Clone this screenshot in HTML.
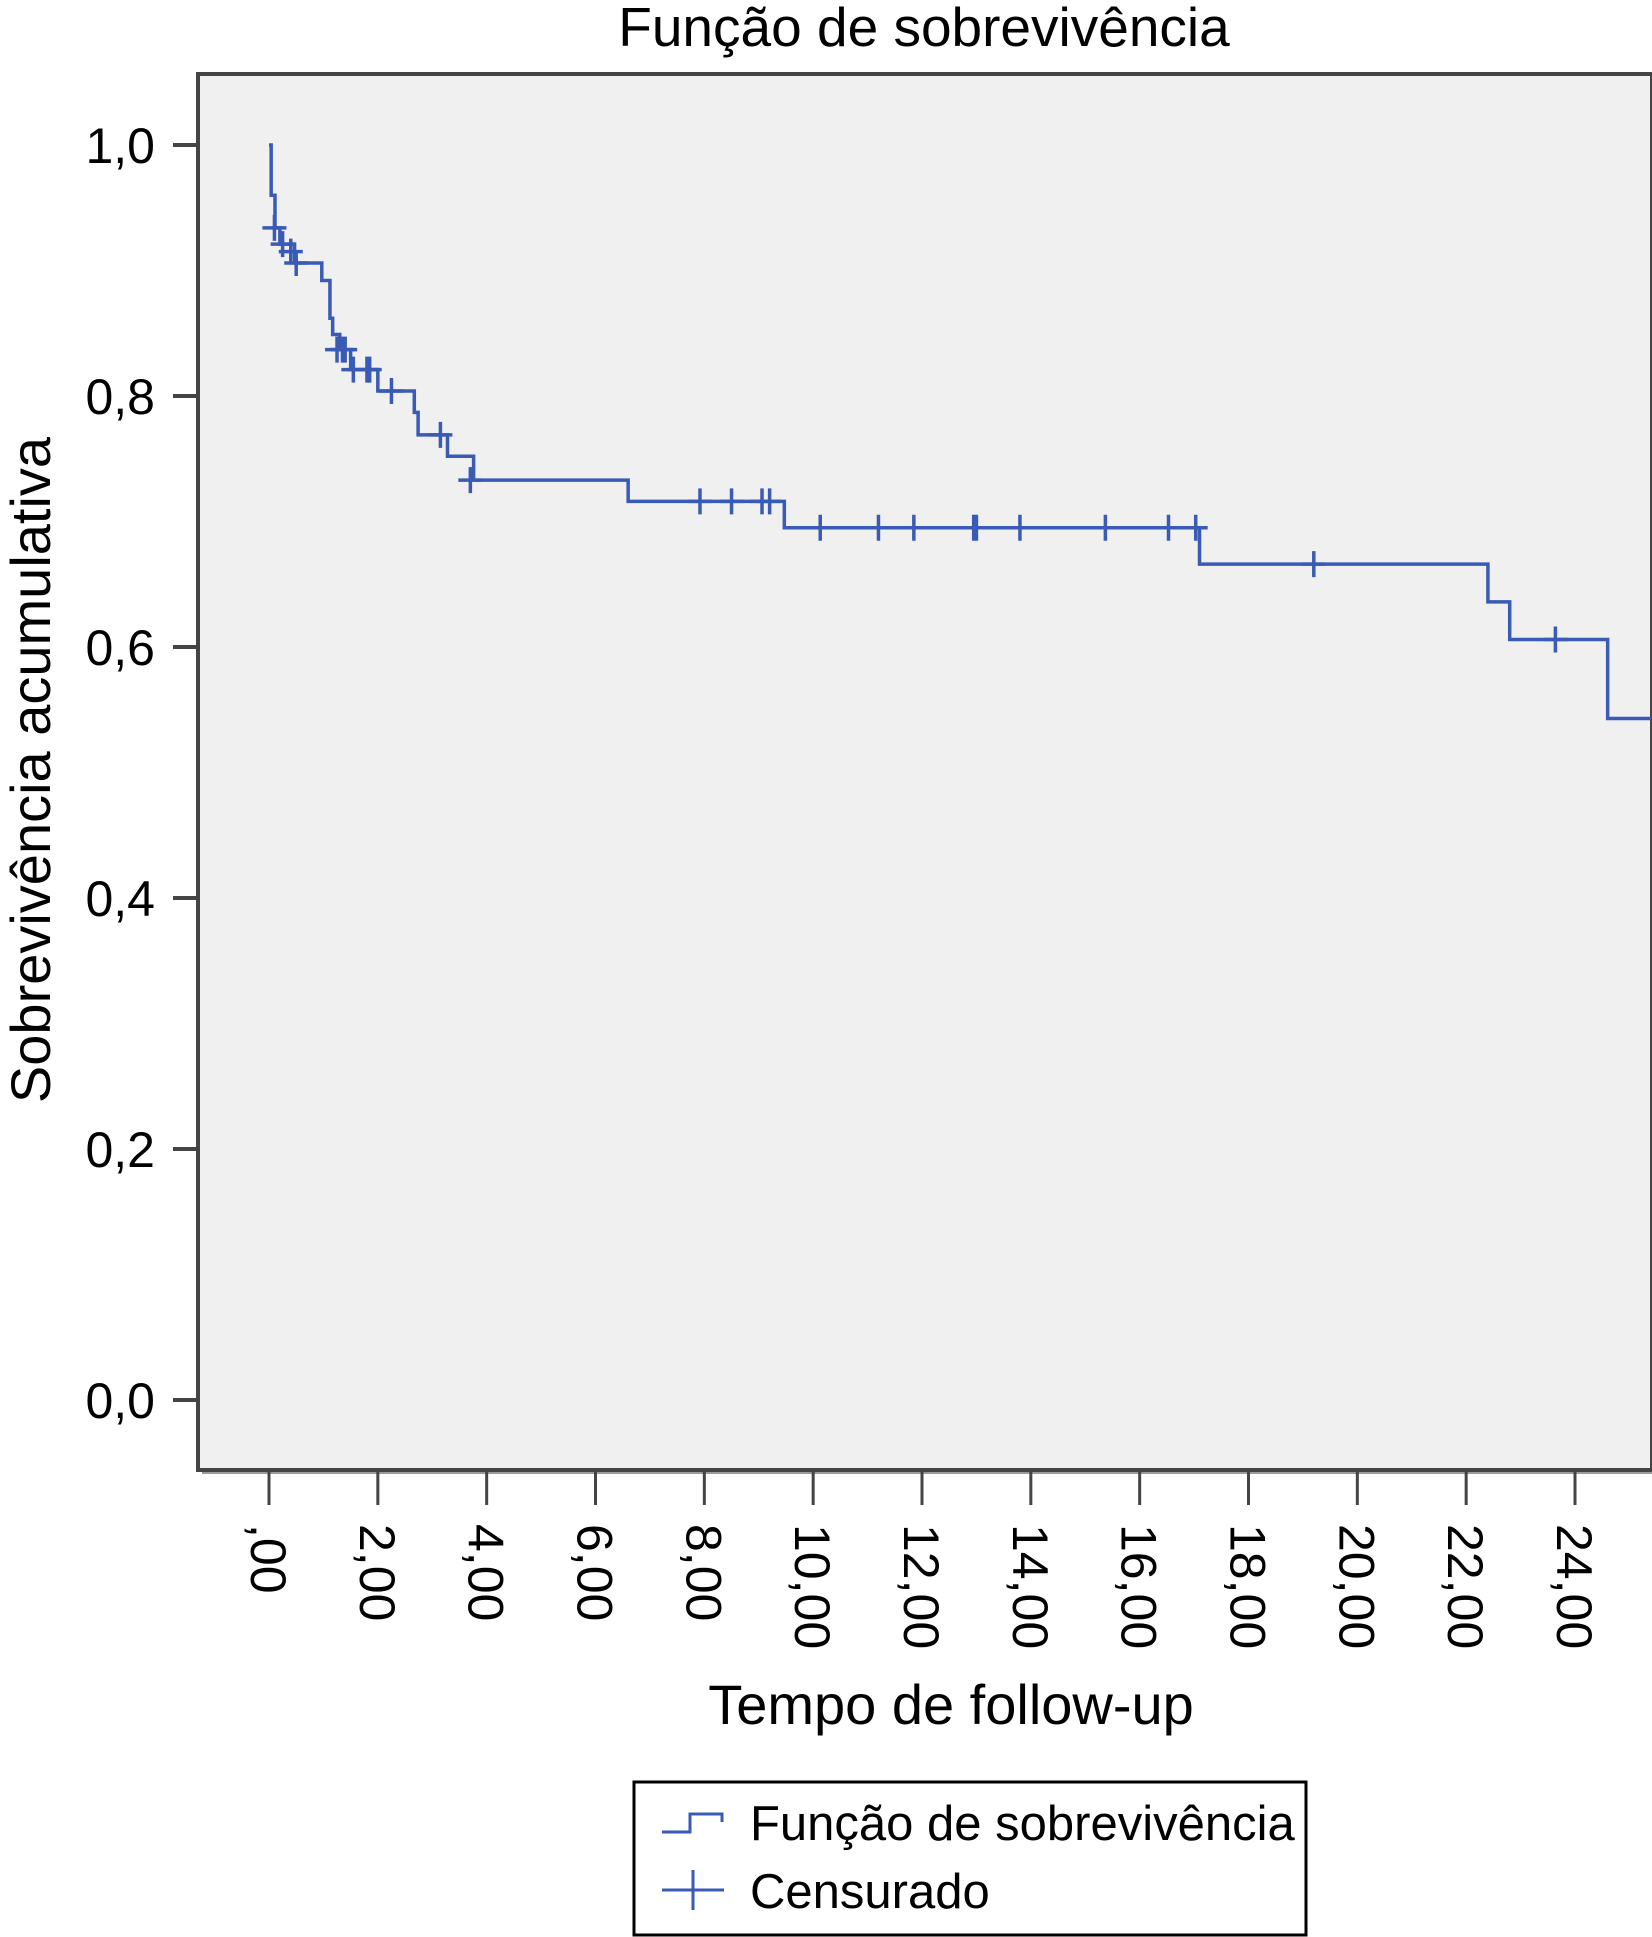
<!DOCTYPE html>
<html><head><meta charset="utf-8"><style>
html,body{margin:0;padding:0;background:#fff;}
svg{display:block;font-family:"Liberation Sans",Arial,sans-serif;}
</style></head><body>
<svg id="chart" width="1652" height="1937" viewBox="0 0 1652 1937">
<text x="924" y="46" font-size="55" text-anchor="middle" fill="#000">Função de sobrevivência</text>
<rect x="202" y="78" width="1452" height="1396" fill="#9a9a9a"/>
<rect x="198" y="74" width="1454" height="1396" fill="#f0f0f0" stroke="#444" stroke-width="4"/>
<g id="yaxis"></g>
<g id="xaxis"></g>
<g id="series"></g>
<text transform="translate(50,770) rotate(-90)" font-size="56" text-anchor="middle">Sobrevivência acumulativa</text>
<text x="951" y="1724" font-size="56" text-anchor="middle">Tempo de follow-up</text>
<g>
<rect x="634" y="1782" width="672" height="153" fill="#fff" stroke="#000" stroke-width="3"/>
<path d="M662,1832 L690,1832 L690,1814 L722,1814 L722,1822" fill="none" stroke="#3a5bb5" stroke-width="3"/>
<text x="750" y="1840" font-size="49">Função de sobrevivência</text>
<path d="M662,1890 L724,1890 M693,1870 L693,1910" fill="none" stroke="#3a5bb5" stroke-width="3"/>
<text x="750" y="1908" font-size="49">Censurado</text>
</g>
</svg>
<script>
const stepTimes = [0, 0.04, 0.11, 0.2, 0.47, 0.97, 1.12, 1.17, 1.3, 1.5, 2.0, 2.67, 2.74, 3.28, 3.76, 6.6, 9.47, 17.1, 22.4, 22.8, 24.6];
const stepSurv  = [1.0, 0.96, 0.934, 0.921, 0.906, 0.892, 0.862, 0.849, 0.837, 0.821, 0.804, 0.787, 0.769, 0.752, 0.733, 0.716, 0.695, 0.666, 0.636, 0.606, 0.543];
const endTime = 25.4;
const censTimes = [0.1, 0.25, 0.4, 0.5, 1.25, 1.35, 1.4, 1.55, 1.8, 1.85, 2.25, 3.15, 3.7, 7.92, 8.5, 9.06, 9.2, 10.13, 11.2, 11.85, 12.95, 13.0, 13.8, 15.37, 16.53, 17.03, 19.2, 23.64];
const censSurv  = [0.934, 0.921, 0.915, 0.906, 0.837, 0.837, 0.837, 0.821, 0.821, 0.821, 0.804, 0.769, 0.733, 0.716, 0.716, 0.716, 0.716, 0.695, 0.695, 0.695, 0.695, 0.695, 0.695, 0.695, 0.695, 0.695, 0.666, 0.606];
const yTicks = [0, 0.2, 0.4, 0.6, 0.8, 1.0];
const yTickLabels = ["0,0", "0,2", "0,4", "0,6", "0,8", "1,0"];
const xTicks = [0, 2, 4, 6, 8, 10, 12, 14, 16, 18, 20, 22, 24];
const xTickLabels = [",00", "2,00", "4,00", "6,00", "8,00", "10,00", "12,00", "14,00", "16,00", "18,00", "20,00", "22,00", "24,00"];

const NS = "http://www.w3.org/2000/svg";
const X = t => 269 + t * (1575 - 269) / 24;
const Y = s => 1400 - s * (1400 - 145);
function mk(tag, attrs, parent) {
  const e = document.createElementNS(NS, tag);
  for (const k in attrs) e.setAttribute(k, attrs[k]);
  parent.appendChild(e);
  return e;
}
const ya = document.getElementById('yaxis');
yTicks.forEach((v, i) => {
  const l = mk('line', {x1: 173, x2: 198, y1: Y(v), y2: Y(v), stroke: '#444', 'stroke-width': 4}, ya);
  
  
  const t = mk('text', {x: 155, y: Y(v) + 18, 'font-size': 50, 'text-anchor': 'end'}, ya);
  t.textContent = yTickLabels[i];
  
  
});
const xa = document.getElementById('xaxis');
xTicks.forEach((v, i) => {
  const l = mk('line', {x1: X(v), x2: X(v), y1: 1472, y2: 1505, stroke: '#444', 'stroke-width': 3}, xa);
  
  
  const t = mk('text', {transform: `translate(${X(v) - 18},1524) rotate(90)`, 'font-size': 50}, xa);
  t.textContent = xTickLabels[i];
  
  
});
const sg = document.getElementById('series');
let d = `M${X(stepTimes[0])},${Y(stepSurv[0])}`;
for (let i = 1; i < stepTimes.length; i++) {
  d += ` H${X(stepTimes[i])} V${Y(stepSurv[i])}`;
}
d += ` H${X(endTime)}`;
const p = mk('path', {d: d, fill: 'none', stroke: '#3a5bb5', 'stroke-width': 3.5}, sg);


censTimes.forEach((t, i) => {
  const cx = X(t), cy = Y(censSurv[i]);
  const c = mk('path', {d: `M${cx - 12},${cy} H${cx + 12} M${cx},${cy - 13} V${cy + 13}`, stroke: '#3a5bb5', 'stroke-width': 3.5, fill: 'none'}, sg);
  
  
});
</script>
</body></html>
